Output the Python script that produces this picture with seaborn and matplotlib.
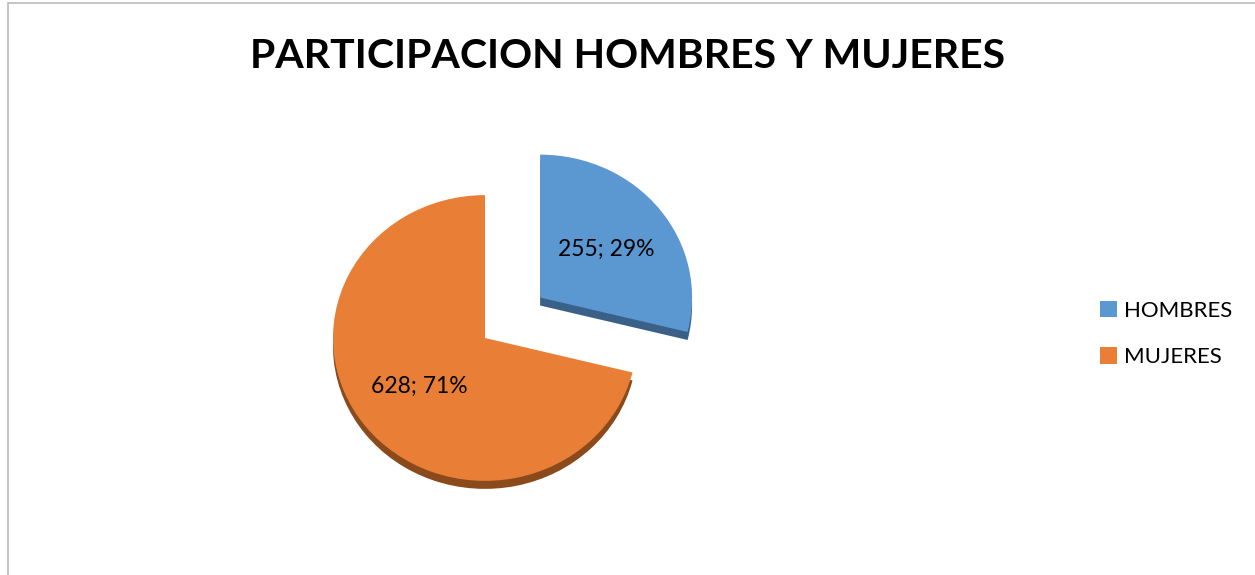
import matplotlib
matplotlib.use('Agg')
import matplotlib.pyplot as plt
import seaborn as sns
from matplotlib.patches import Rectangle

sns.set_theme(style="white")
plt.rcParams['font.family'] = ['Lato', 'DejaVu Sans']
plt.rcParams['text.color'] = 'black'

# Datos
categorias = ['HOMBRES', 'MUJERES']
valores = [255, 628]
colores = ['#5B97D0', '#E97F36']
colores_sombra = ['#3B6088', '#8A4A1C']
separacion = [0.46, 0.0]

total = sum(valores)

W, H = 1255, 575
R_PX = 152          # radio del pastel en pixeles
k = 0.94            # aplastamiento vertical (efecto 3D)
cx_px, cy_px = 485, 338

fig = plt.figure(figsize=(W / 100, H / 100), dpi=100)
ax = fig.add_axes([0, 0, 1, 1])

# sombra / profundidad
ax.pie(valores, colors=colores_sombra, startangle=90, counterclock=False,
       explode=separacion, center=(0, -8 / (R_PX * k)),
       wedgeprops={'linewidth': 0})

wedges, _, autotexts = ax.pie(
    valores, colors=colores, startangle=90, counterclock=False,
    explode=separacion, center=(0, 0),
    autopct=lambda p: f"{round(p * total / 100)}; {p:.0f}%",
    pctdistance=0.55, wedgeprops={'linewidth': 0},
    textprops={'fontsize': 16.5, 'color': 'black'})

ax.set_aspect('auto')
ax.set_xlim(-cx_px / R_PX, (W - cx_px) / R_PX)
ax.set_ylim(-(H - cy_px) / (R_PX * k), cy_px / (R_PX * k))
ax.axis('off')

fig.text(0.5, 1 - 57 / H, 'PARTICIPACION HOMBRES Y MUJERES',
         ha='center', va='center', fontsize=29.5, fontweight='bold',
         color='black')

fig.legend(wedges, categorias, loc='center left',
           bbox_to_anchor=(1080 / W, 1 - 334 / H), frameon=False,
           fontsize=16, handlelength=0.75, handleheight=0.75,
           handletextpad=0.35, labelspacing=1.2, labelcolor='black')

fig.add_artist(Rectangle((8 / W, -0.02), (W - 6) / W, 1 - 3 / H + 0.02,
                         transform=fig.transFigure, fill=False,
                         edgecolor='#BFBFBF', linewidth=1.3))

plt.savefig('out.png', dpi=100)
plt.close()
